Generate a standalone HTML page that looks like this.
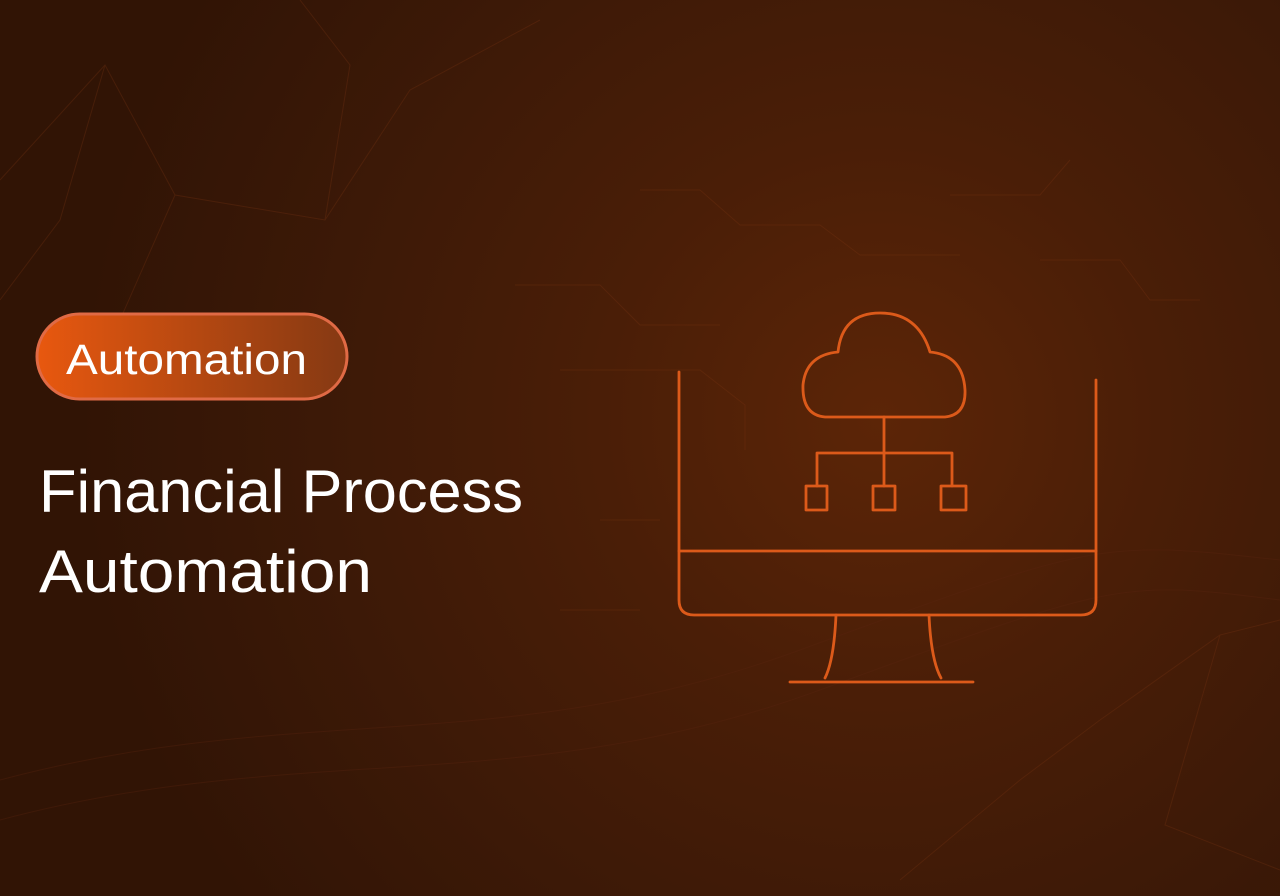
<!DOCTYPE html>
<html><head><meta charset="utf-8"><style>
html,body{margin:0;padding:0;background:#331506;}
svg{display:block}
</style></head><body>
<svg width="1280" height="896" viewBox="0 0 1280 896" xmlns="http://www.w3.org/2000/svg">
<defs>
<radialGradient id="bg" cx="880" cy="420" r="800" gradientUnits="userSpaceOnUse">
<stop offset="0" stop-color="#5c2507"/>
<stop offset="0.35" stop-color="#4a1e07"/>
<stop offset="0.7" stop-color="#3c1907"/>
<stop offset="1" stop-color="#311405"/>
</radialGradient>
<linearGradient id="badge" x1="0" y1="0" x2="1" y2="0">
<stop offset="0" stop-color="#e8580f"/>
<stop offset="1" stop-color="#853913"/>
</linearGradient>
</defs>
<rect width="1280" height="896" fill="url(#bg)"/>
<g stroke="#7a3514" stroke-width="1" fill="none" opacity="0.3">
<path d="M0 180 L105 65 L175 195 L325 220 L410 90 L540 20"/>
<path d="M105 65 L60 220 L0 300"/>
<path d="M175 195 L120 320"/>
<path d="M325 220 L350 65 L300 0"/>
<path d="M1280 620 L1220 635 L1165 825 L1280 870"/>
<path d="M1220 635 L1100 720 L1020 780 L900 880"/>
<path d="M515 285 L600 285 L640 325 L720 325"/>
<path d="M560 370 L700 370 L745 405 L745 450"/>
<path d="M640 190 L700 190 L740 225 L820 225 L860 255 L960 255"/>
<path d="M950 195 L1040 195 L1070 160"/>
<path d="M1040 260 L1120 260 L1150 300 L1200 300"/>
<path d="M600 520 L660 520"/>
<path d="M560 610 L640 610"/>
</g>
<g stroke="#5a2510" stroke-width="1" fill="none" opacity="0.35">
<path d="M0 780 C300 700 500 760 800 650 S1100 540 1280 560"/>
<path d="M0 820 C300 740 520 800 820 690 S1120 580 1280 600"/>
</g>
<rect x="37" y="314" width="310" height="85" rx="42.5" fill="url(#badge)" stroke="#e06a45" stroke-width="3"/>
<text x="66" y="374" font-family="Liberation Sans, sans-serif" font-size="43" fill="#fff" textLength="241" lengthAdjust="spacingAndGlyphs">Automation</text>
<text x="39" y="512" font-family="Liberation Sans, sans-serif" font-size="60" fill="#fff" textLength="484" lengthAdjust="spacingAndGlyphs">Financial Process</text>
<text x="39" y="592" font-family="Liberation Sans, sans-serif" font-size="60" fill="#fff" textLength="333" lengthAdjust="spacingAndGlyphs">Automation</text>
<g stroke="#dc5a1a" stroke-width="2.8" fill="none" stroke-linecap="round" stroke-linejoin="round">
<path d="M679 372 L679 600 Q679 615 694 615 L1081 615 Q1096 615 1096 600 L1096 380"/>
<path d="M679 551 L1096 551"/>
<path d="M836 615 Q834 660 825 678"/>
<path d="M929 615 Q931 660 941 678"/>
<path d="M790 682 L973 682"/>
<path d="M825 417 L945 417 Q966 415 965 390 Q963 355 930 352 Q918 313 880 313 Q842 313 838 352 Q806 355 803 385 Q802 415 825 417 Z"/>
<path d="M884 417 L884 454 M817 453 L952 453 M817 453 L817 486 M952 453 L952 486 M884 454 L884 486"/>
<rect x="806" y="486" width="21" height="24"/>
<rect x="873" y="486" width="22" height="24"/>
<rect x="941" y="486" width="25" height="24"/>
</g>
</svg>
</body></html>
